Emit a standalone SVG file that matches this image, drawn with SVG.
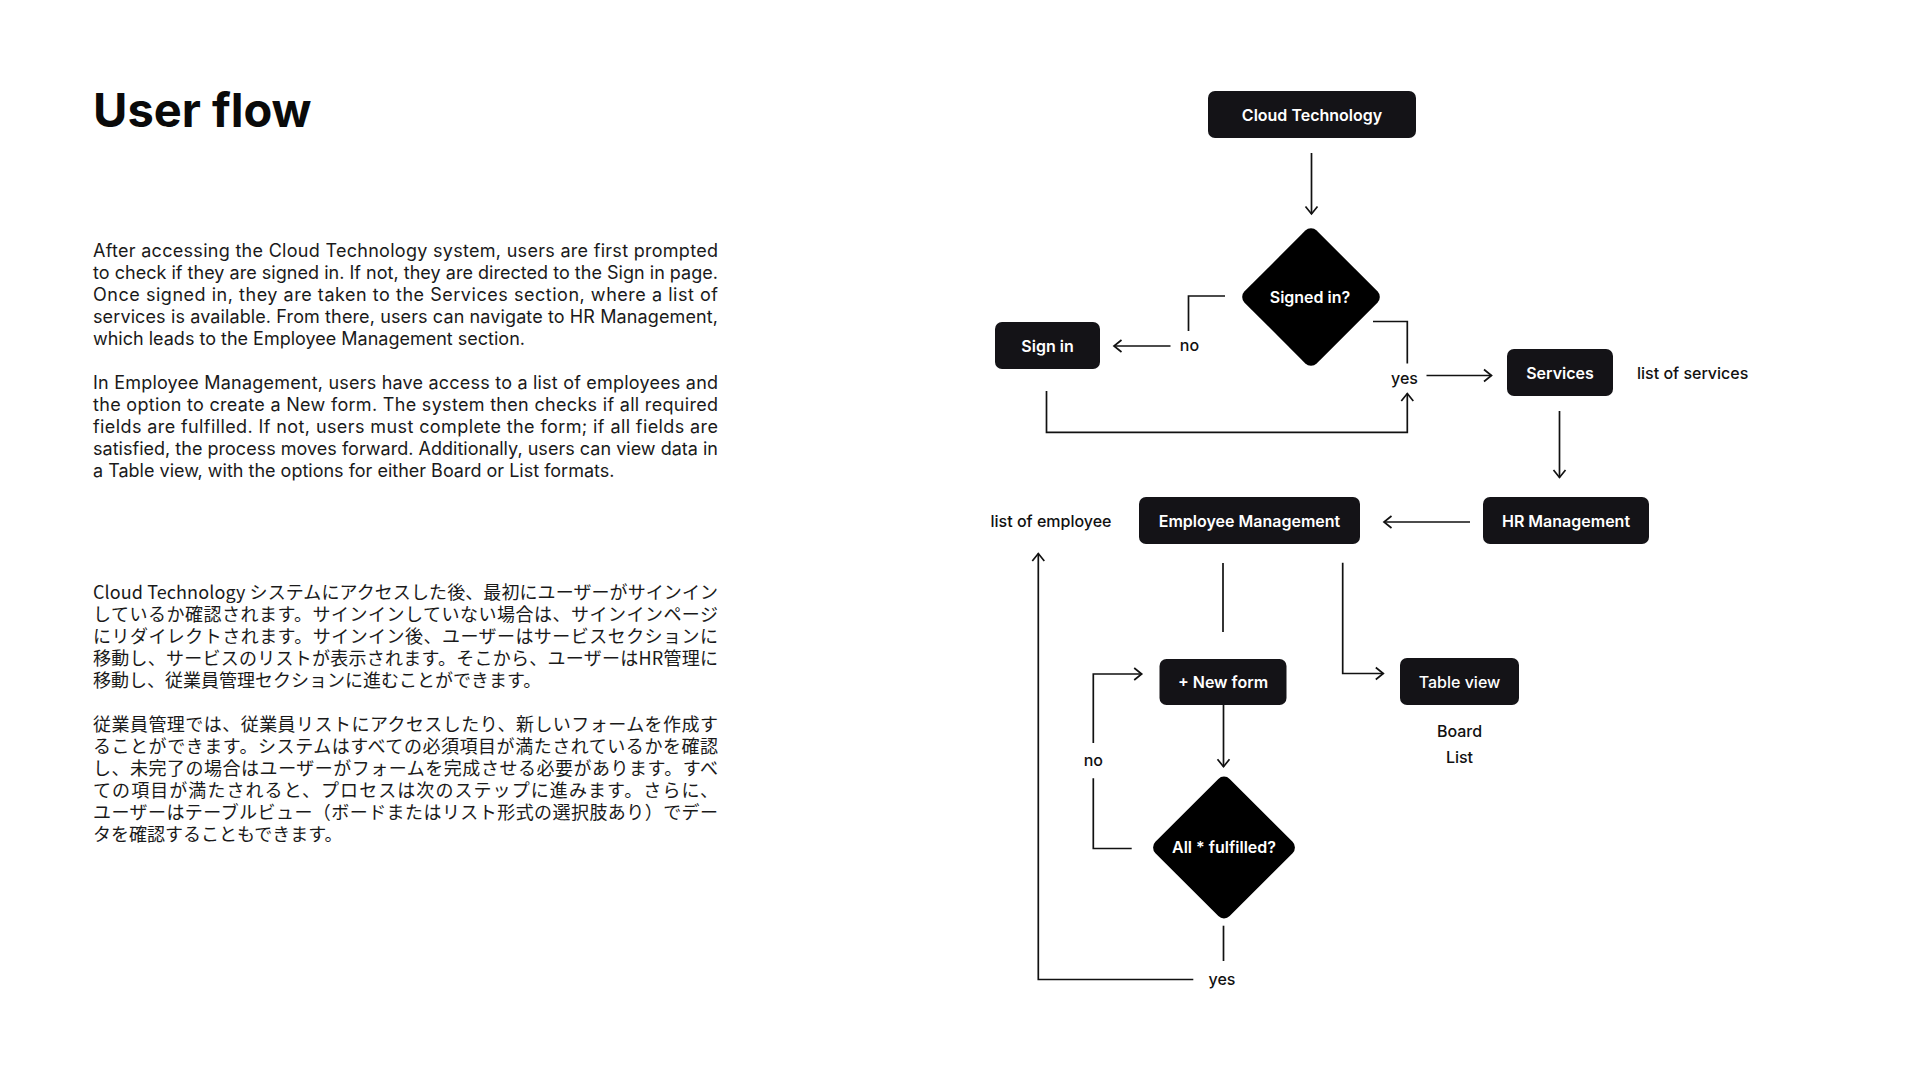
<svg xmlns="http://www.w3.org/2000/svg" width="1920" height="1080" viewBox="0 0 1920 1080">
<defs>
<style>
.title{font-family:Inter,"Liberation Sans",sans-serif;font-weight:700;font-size:47px;fill:#0a0a0a}
.en{font-family:Inter,"Liberation Sans",sans-serif;font-size:18px;fill:#1a1a1a}
.ja{font-family:"Noto Sans CJK JP","Noto Sans",sans-serif;font-size:18px;fill:#1a1a1a}
.box{fill:#141317}
.dia{fill:#000}
.nt{font-family:Inter,"Liberation Sans",sans-serif;font-weight:600;font-size:16px;fill:#fff;text-anchor:middle}
.lbl{font-family:Inter,"Liberation Sans",sans-serif;font-weight:500;font-size:16px;fill:#111}
.c{fill:none;stroke:#111;stroke-width:1.7}
</style>
<marker id="ah" viewBox="-10 -8 12 16" refX="0" refY="0" markerWidth="12" markerHeight="16" markerUnits="userSpaceOnUse" orient="auto">
<path d="M-7.5,-6 L0,0 L-7.5,6" fill="none" stroke="#111" stroke-width="1.7"/>
</marker>
</defs>
<rect width="1920" height="1080" fill="#fff"/>

<text class="title" x="93" y="127">User flow</text>

<g id="text-en">
<text class="en" x="93" y="257" textLength="625" lengthAdjust="spacing">After accessing the Cloud Technology system, users are first prompted</text>
<text class="en" x="93" y="279" textLength="625" lengthAdjust="spacing">to check if they are signed in. If not, they are directed to the Sign in page.</text>
<text class="en" x="93" y="301" textLength="625" lengthAdjust="spacing">Once signed in, they are taken to the Services section, where a list of</text>
<text class="en" x="93" y="323" textLength="625" lengthAdjust="spacing">services is available. From there, users can navigate to HR Management,</text>
<text class="en" x="93" y="345">which leads to the Employee Management section.</text>
<text class="en" x="93" y="389" textLength="625" lengthAdjust="spacing">In Employee Management, users have access to a list of employees and</text>
<text class="en" x="93" y="411" textLength="625" lengthAdjust="spacing">the option to create a New form. The system then checks if all required</text>
<text class="en" x="93" y="433" textLength="625" lengthAdjust="spacing">fields are fulfilled. If not, users must complete the form; if all fields are</text>
<text class="en" x="93" y="455" textLength="625" lengthAdjust="spacing">satisfied, the process moves forward. Additionally, users can view data in</text>
<text class="en" x="93" y="477">a Table view, with the options for either Board or List formats.</text>
</g>

<g id="text-ja">
<text class="ja" x="93" y="599" textLength="625" lengthAdjust="spacing">Cloud Technology システムにアクセスした後、最初にユーザーがサインイン</text>
<text class="ja" x="93" y="621" textLength="625" lengthAdjust="spacing">しているか確認されます。サインインしていない場合は、サインインページ</text>
<text class="ja" x="93" y="643" textLength="625" lengthAdjust="spacing">にリダイレクトされます。サインイン後、ユーザーはサービスセクションに</text>
<text class="ja" x="93" y="665" textLength="625" lengthAdjust="spacing">移動し、サービスのリストが表示されます。そこから、ユーザーはHR管理に</text>
<text class="ja" x="93" y="687">移動し、従業員管理セクションに進むことができます。</text>
<text class="ja" x="93" y="731" textLength="625" lengthAdjust="spacing">従業員管理では、従業員リストにアクセスしたり、新しいフォームを作成す</text>
<text class="ja" x="93" y="753" textLength="625" lengthAdjust="spacing">ることができます。システムはすべての必須項目が満たされているかを確認</text>
<text class="ja" x="93" y="775" textLength="625" lengthAdjust="spacing">し、未完了の場合はユーザーがフォームを完成させる必要があります。すべ</text>
<text class="ja" x="93" y="797" textLength="625" lengthAdjust="spacing">ての項目が満たされると、プロセスは次のステップに進みます。さらに、</text>
<text class="ja" x="93" y="819" textLength="625" lengthAdjust="spacing">ユーザーはテーブルビュー（ボードまたはリスト形式の選択肢あり）でデー</text>
<text class="ja" x="93" y="841">タを確認することもできます。</text>
</g>

<g id="connectors">
<path class="c" d="M1311.5,153 V214" marker-end="url(#ah)"/>
<path class="c" d="M1225,296 H1188.5 V331"/>
<path class="c" d="M1170.5,346 H1114" marker-end="url(#ah)"/>
<path class="c" d="M1373,321.5 H1407.3 V363.5"/>
<path class="c" d="M1426.5,375.5 H1491.5" marker-end="url(#ah)"/>
<path class="c" d="M1046.5,391 V432.3 H1407.3 V393.5" marker-end="url(#ah)"/>
<path class="c" d="M1559.5,411 V477.5" marker-end="url(#ah)"/>
<path class="c" d="M1470,522 H1384" marker-end="url(#ah)"/>
<path class="c" d="M1223,563 V632"/>
<path class="c" d="M1342.7,562.7 V673.5 H1383.3" marker-end="url(#ah)"/>
<path class="c" d="M1223.5,705 V766.7" marker-end="url(#ah)"/>
<path class="c" d="M1131.7,848.5 H1093.3 V778.3"/>
<path class="c" d="M1093.3,743 V674 H1141.7" marker-end="url(#ah)"/>
<path class="c" d="M1223.5,925.7 V961"/>
<path class="c" d="M1193.3,979.5 H1038.3 V553.5" marker-end="url(#ah)"/>
<text class="lbl" x="1189.5" y="351" text-anchor="middle">no</text>
<text class="lbl" x="1404.5" y="384" text-anchor="middle">yes</text>
<text class="lbl" x="1093.3" y="765.5" text-anchor="middle">no</text>
<text class="lbl" x="1222" y="985" text-anchor="middle">yes</text>
</g>

<g id="cloud-technology">
<rect class="box" x="1208" y="91" width="208" height="47" rx="7"/>
<text class="nt" x="1312" y="120.5">Cloud Technology</text>
</g>
<g id="signed-in">
<rect class="dia" x="-51" y="-51" width="102" height="102" rx="8" transform="translate(1311,297) rotate(45)"/>
<text class="nt" x="1310" y="303">Signed in?</text>
</g>
<g id="sign-in">
<rect class="box" x="995" y="322" width="105" height="47" rx="7"/>
<text class="nt" x="1047.5" y="351.5">Sign in</text>
</g>
<g id="services">
<rect class="box" x="1507" y="349" width="106" height="47" rx="7"/>
<text class="nt" x="1560" y="378.5">Services</text>
<text class="lbl" x="1637" y="378.5">list of services</text>
</g>
<g id="hr-management">
<rect class="box" x="1483" y="497" width="166" height="47" rx="7"/>
<text class="nt" x="1566" y="526.5">HR Management</text>
</g>
<g id="employee-management">
<rect class="box" x="1139" y="497" width="221" height="47" rx="7"/>
<text class="nt" x="1249.5" y="526.5">Employee Management</text>
<text class="lbl" x="990.5" y="526.5">list of employee</text>
</g>
<g id="new-form">
<rect class="box" x="1159.5" y="659" width="127" height="46" rx="7"/>
<text class="nt" x="1223" y="688">+ New form</text>
</g>
<g id="table-view">
<rect class="box" x="1400" y="658" width="119" height="47" rx="7"/>
<text class="nt" x="1459.5" y="687.5" style="font-weight:500">Table view</text>
<text class="lbl" x="1459.5" y="737" text-anchor="middle">Board</text>
<text class="lbl" x="1459.5" y="762.5" text-anchor="middle">List</text>
</g>
<g id="all-fulfilled">
<rect class="dia" x="-52.5" y="-52.5" width="105" height="105" rx="8" transform="translate(1224,847.5) rotate(45)"/>
<text class="nt" x="1224" y="853">All * fulfilled?</text>
</g>
</svg>
